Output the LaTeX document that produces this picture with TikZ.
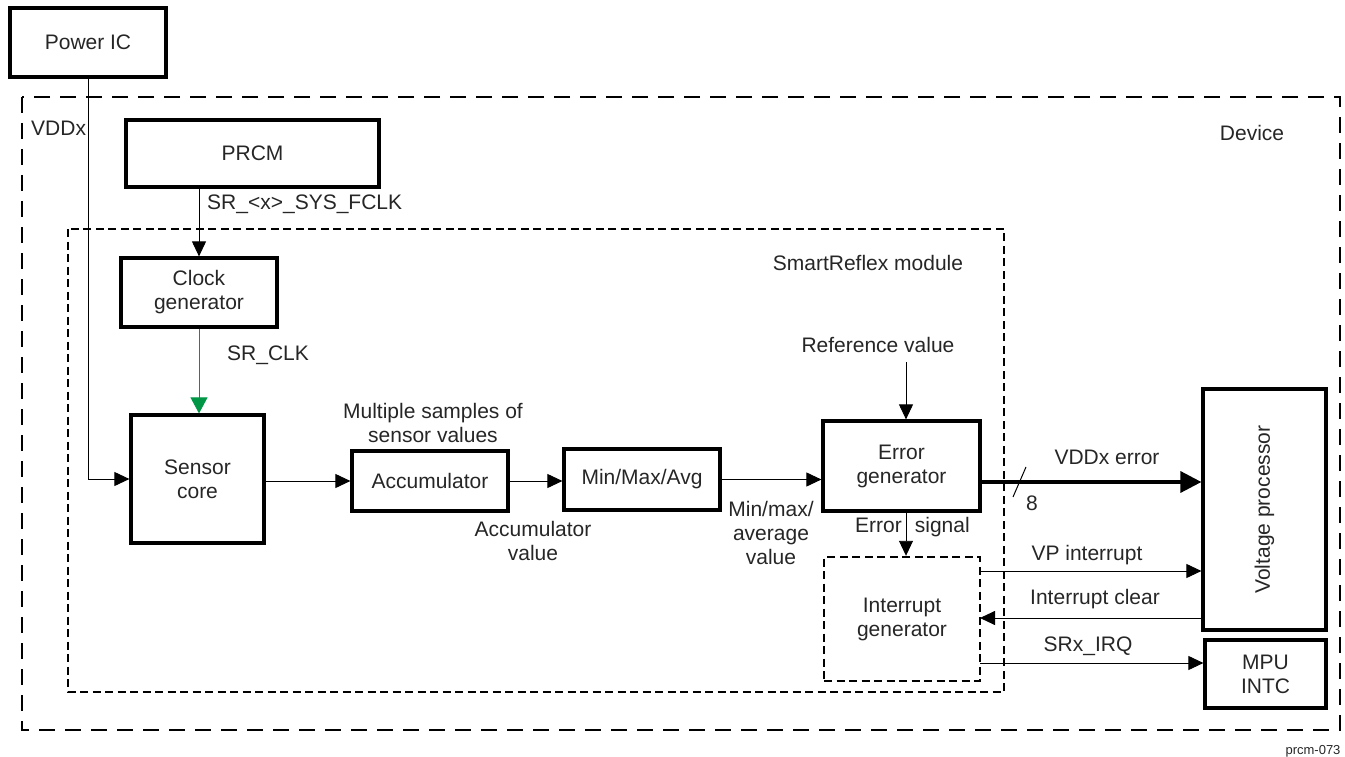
\documentclass[tikz,border=0pt]{standalone}
\usepackage{fontspec}
\setmainfont{Liberation Sans}
\usetikzlibrary{arrows.meta,calc}
\definecolor{srgreen}{RGB}{0,150,70}
\begin{document}
\begin{tikzpicture}[x=1pt,y=-1pt,
  every node/.style={font=\fontsize{21}{24}\selectfont, text=black!85},
  blk/.style={draw, line width=3.2pt, inner sep=0pt, align=center},
  txt/.style={inner sep=0pt, align=center},
  conn/.style={line width=0.9pt, -{Triangle[length=15pt,width=14pt]}},
  devbox/.style={line width=2.6pt, dash pattern=on 16pt off 10pt},
  modbox/.style={line width=2.4pt, dash pattern=on 8pt off 4.5pt},
]
\useasboundingbox (0,0) rectangle (1345,757);
% boxes
\node[blk, minimum width=156pt, minimum height=69pt] (pic) at (88,42.5) {Power IC};
\draw[devbox] (22,97) rectangle (1340,730);
\draw[modbox] (68,229) rectangle (1004,692);
\node[blk, minimum width=253pt, minimum height=67pt] (prcm) at (252.5,153.5) {PRCM};
\node[blk, minimum width=156pt, minimum height=69pt] (clk) at (199,292.5) {Clock\\generator};
\node[blk, minimum width=133pt, minimum height=128pt] (sen) at (197.5,479) {Sensor\\core};
\node[blk, minimum width=156pt, minimum height=60pt] (acc) at (430,481) {Accumulator};
\node[blk, minimum width=156pt, minimum height=61pt] (mma) at (642,479.5) {Min/Max/Avg};
\node[blk, minimum width=157pt, minimum height=90pt] (err) at (901.5,466) {Error\\generator};
\node[blk, modbox, minimum width=156pt, minimum height=124pt] (intg) at (902,619) {Interrupt\\generator};
\node[blk, minimum width=123pt, minimum height=241pt] (vp) at (1264.5,509.5) {};
\node[txt, rotate=90] (vptxt) at (vp.center) {Voltage processor};
\node[blk, minimum width=121pt, minimum height=68pt] (mpu) at (1265.5,674) {MPU\\INTC};
% labels
\node[txt, anchor=west] (lvdd) at (31,128) {VDDx};
\node[txt] (ldev) at (1252,133) {Device};
\node[txt, anchor=west] (lfclk) at (207,204) {SR\_<x>\_SYS\_FCLK};
\node[txt] (lsr) at (868,263) {SmartReflex module};
\node[txt, anchor=west] (lclk) at (227,355) {SR\_CLK};
\node[txt] (lmult) at (433,423) {Multiple samples of\\sensor values};
\node[txt] (laccv) at (533,541) {Accumulator\\value};
\node[txt] (lmmv) at (771,533) {Min/max/\\average\\value};
\node[txt] (lref) at (878,345) {Reference value};
\node[txt, anchor=west] (lerrs) at (855,527) {Error\hspace{13pt}signal};
\node[txt] (lvdderr) at (1107,457) {VDDx error};
\node[txt] (l8) at (1032,503) {8};
\node[txt] (lvpi) at (1087,555) {VP interrupt};
\node[txt] (lclr) at (1095,599) {Interrupt clear};
\node[txt] (lirq) at (1088,646) {SRx\_IRQ};
\node[txt, font=\fontsize{13}{15}\selectfont] (lid) at (1313,751) {prcm-073};
% connectors
\draw[conn] (pic.south) |- (sen.west);
\draw[conn] (clk.north |- prcm.south) -- (clk.north);
\draw[line width=0.9pt, srgreen, -{Triangle[length=16pt,width=17pt,fill=srgreen]}] (clk.south) -- (sen.north -| clk.south);
\draw[conn] (sen.east |- acc.west) -- (acc.west);
\draw[conn] (acc.east) -- (acc.east -| mma.west);
\draw[conn] (mma.east) -- (mma.east -| err.west);
\coordinate (refstart) at (906,362);
\draw[conn] (refstart) -- (refstart |- err.north);
\draw[conn] (err.south -| refstart) -- (intg.north -| refstart);
\coordinate (ve) at ($(err.east)+(0,16)$);
\draw[line width=3.5pt, -{Triangle[length=21pt,width=21pt]}] (ve) -- (ve -| vp.west);
\coordinate (s1) at (1013,497);
\coordinate (s2) at (1026,467);
\draw[line width=1pt] (s1) -- (s2);
\coordinate (vpi) at (980,571);
\coordinate (clr) at (980,618);
\coordinate (irq) at (980,663);
\draw[conn] (vpi) -- (vpi -| vp.west);
\draw[conn] (clr -| vp.west) -- (clr);
\draw[conn] (irq) -- (irq -| mpu.west);
\end{tikzpicture}
\end{document}
